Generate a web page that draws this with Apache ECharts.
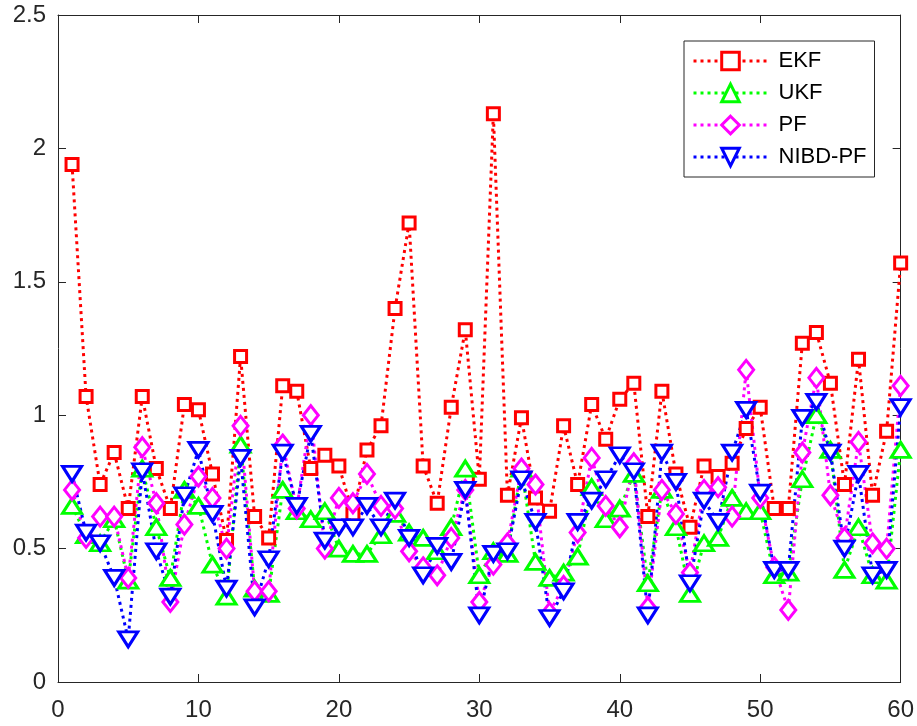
<!DOCTYPE html>
<html>
<head>
<meta charset="utf-8">
<script src="https://cdn.jsdelivr.net/npm/echarts@6/dist/echarts.min.js"></script>
<style>
  html, body { margin: 0; padding: 0; background: #fff; }
  #main { width: 917px; height: 726px; }
</style>
</head>
<body>
<div id="main"></div>
<script>
// 时间步 1..60
var steps = [];
for (var i = 1; i <= 60; i++) steps.push(i);

var ekf = [1.94, 1.07, 0.74, 0.86, 0.65, 1.07, 0.80, 0.65, 1.04, 1.02,
           0.78, 0.53, 1.22, 0.62, 0.54, 1.11, 1.09, 0.80, 0.85, 0.81,
           0.63, 0.87, 0.96, 1.40, 1.72, 0.81, 0.67, 1.03, 1.32, 0.76,
           2.13, 0.70, 0.99, 0.69, 0.64, 0.96, 0.74, 1.04, 0.91, 1.06,
           1.12, 0.62, 1.09, 0.78, 0.58, 0.81, 0.77, 0.82, 0.95, 1.03,
           0.65, 0.65, 1.27, 1.31, 1.12, 0.74, 1.21, 0.70, 0.94, 1.57];
var ukf = [0.66, 0.55, 0.52, 0.61, 0.38, 0.80, 0.58, 0.39, 0.72, 0.66,
           0.44, 0.32, 0.89, 0.35, 0.33, 0.72, 0.64, 0.61, 0.64, 0.50,
           0.48, 0.48, 0.55, 0.63, 0.56, 0.54, 0.49, 0.58, 0.80, 0.40,
           0.49, 0.48, 0.80, 0.45, 0.39, 0.41, 0.47, 0.73, 0.61, 0.65,
           0.78, 0.37, 0.72, 0.58, 0.33, 0.52, 0.54, 0.69, 0.64, 0.64,
           0.40, 0.41, 0.76, 1.00, 0.87, 0.42, 0.58, 0.40, 0.38, 0.87];
var pf  = [0.72, 0.54, 0.62, 0.62, 0.39, 0.88, 0.67, 0.30, 0.59, 0.77,
           0.69, 0.50, 0.96, 0.34, 0.34, 0.89, 0.65, 1.00, 0.50, 0.69,
           0.67, 0.78, 0.66, 0.65, 0.49, 0.43, 0.40, 0.54, 0.72, 0.30,
           0.44, 0.52, 0.80, 0.74, 0.26, 0.36, 0.56, 0.84, 0.66, 0.58,
           0.82, 0.28, 0.72, 0.63, 0.41, 0.72, 0.73, 0.62, 1.17, 0.69,
           0.43, 0.27, 0.86, 1.14, 0.70, 0.54, 0.90, 0.52, 0.50, 1.11];
var nibd = [0.78, 0.56, 0.52, 0.39, 0.16, 0.79, 0.49, 0.32, 0.70, 0.87,
            0.63, 0.35, 0.84, 0.28, 0.46, 0.86, 0.66, 0.93, 0.53, 0.58,
            0.58, 0.66, 0.58, 0.68, 0.54, 0.40, 0.51, 0.45, 0.72, 0.25,
            0.48, 0.49, 0.76, 0.60, 0.24, 0.34, 0.60, 0.68, 0.76, 0.85,
            0.79, 0.25, 0.86, 0.75, 0.37, 0.68, 0.60, 0.86, 1.02, 0.71,
            0.42, 0.42, 0.99, 1.05, 0.86, 0.50, 0.78, 0.40, 0.42, 1.03];

var seriesNames = ['EKF', 'UKF', 'PF', 'NIBD-PF'];

function pairs(arr) {
    return arr.map(function (v, k) { return [steps[k], v]; });
}

var axisColor = '#262626';
var font = 'Liberation Sans, Arial, sans-serif';

function lineSeries(name, data, color, symbol, size, rotate) {
    return {
        name: name,
        type: 'line',
        data: pairs(data),
        symbol: symbol,
        symbolSize: size,
        symbolRotate: rotate || 0,
        showAllSymbol: true,
        lineStyle: { color: color, width: 3, type: [3, 4] },
        itemStyle: { color: '#fff', borderColor: color, borderWidth: 3 },
        emphasis: { disabled: true },
        animation: false
    };
}

function boxAxis(pos, min, max, step) {
    return {
        type: 'value', position: pos,
        min: min, max: max, interval: step,
        axisLine: { show: true, onZero: false, lineStyle: { color: axisColor, width: 1 } },
        axisTick: { show: true, inside: true, length: 8, lineStyle: { color: axisColor } },
        axisLabel: { show: false },
        splitLine: { show: false }
    };
}

var myChart = echarts.init(document.getElementById('main'));

var xMain = boxAxis('bottom', 0, 60, 10);
xMain.axisLabel = { show: true, fontSize: 24, color: axisColor, fontFamily: font, margin: 16 };
var yMain = boxAxis('left', 0, 2.5, 0.5);
yMain.axisLabel = { show: true, fontSize: 24, color: axisColor, fontFamily: font, margin: 12 };

var option = {
    backgroundColor: '#fff',
    animation: false,
    grid: { left: 58, right: 15, top: 15, bottom: 44, containLabel: false },
    legend: {
        data: seriesNames,
        orient: 'vertical',
        left: 684,
        top: 41,
        itemWidth: 74,
        itemHeight: 22,
        itemGap: 10,
        padding: [9, 8, 9, 8],
        borderColor: axisColor,
        borderWidth: 1,
        backgroundColor: '#fff',
        lineStyle: { width: 3, type: [3, 4] },
        itemStyle: { borderWidth: 3 },
        textStyle: { fontSize: 22, color: '#000', fontFamily: font, padding: [0, 0, 0, 6] },
        selectedMode: false
    },
    xAxis: [xMain, boxAxis('top', 0, 60, 10)],
    yAxis: [yMain, boxAxis('right', 0, 2.5, 0.5)],
    series: [
        lineSeries('EKF', ekf, '#ff0000', 'rect', 12),
        lineSeries('UKF', ukf, '#00ff00', 'triangle', [19, 15]),
        lineSeries('PF', pf, '#ff00ff', 'diamond', [15, 19]),
        lineSeries('NIBD-PF', nibd, '#0000ff', 'triangle', [19, 15], 180)
    ]
};
myChart.setOption(option);
</script>
</body>
</html>
